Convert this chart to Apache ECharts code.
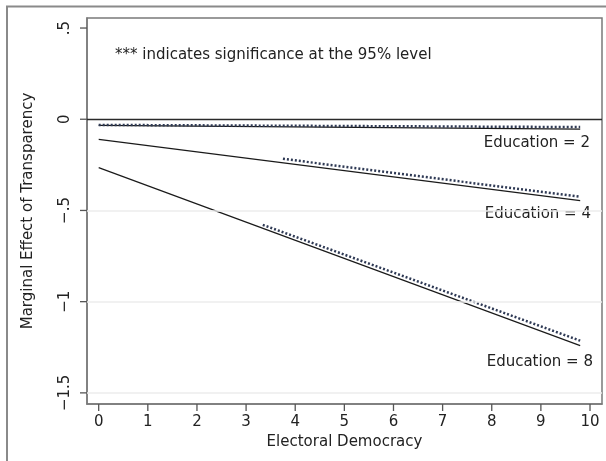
<!DOCTYPE html>
<html>
<head>
<meta charset="utf-8">
<script src="https://cdn.jsdelivr.net/npm/echarts@6/dist/echarts.min.js"></script>
<style>html,body{margin:0;padding:0;background:#fff}#c{width:606px;height:461px}</style>
</head>
<body>
<div id="c"></div>
<script>
// Data
const democracyX = [0, 9.8];
const effectEd2 = [-0.034, -0.054];
const effectEd4 = [-0.110, -0.446];
const effectEd8 = [-0.265, -1.241];
const sigX2 = [0, 9.8];
const sigEd2 = [-0.031, -0.043];
const sigX4 = [3.75, 9.8];
const sigEd4 = [-0.217, -0.425];
const sigX8 = [3.34, 9.8];
const sigEd8 = [-0.579, -1.214];
const xTicks = [0, 1, 2, 3, 4, 5, 6, 7, 8, 9, 10];
const yTicks = [-1.5, -1, -0.5, 0, 0.5];
const yTickLabels = ['\u22121.5', '\u22121', '\u2212.5', '0', '.5'];
const gridValues = [-1.5, -1, -0.5];
const lineLabels = ['Education = 2', 'Education = 4', 'Education = 8'];
const noteText = '*** indicates significance at the 95% level';

const FONT = 'DejaVu Sans';
const TXT = '#222';
const X_MIN = -0.238, X_MAX = 10.244, Y_MIN = -1.561, Y_MAX = 0.555;
const TICK_PX = 7;

function pairs(xs, ys) { return xs.map((x, i) => [x, ys[i]]); }

const chart = echarts.init(document.getElementById('c'), null, {renderer: 'canvas'});

const solid = { color: '#1a1a1a', width: 1.2 };
const stars = { color: '#2f3a55', width: 2.5, type: [2, 2], cap: 'butt' };
const tickStyle = { stroke: '#555', lineWidth: 1.3 };

function tickSeries(values, horizontal) {
  return {
    type: 'custom', silent: true, clip: false, z: 5,
    data: values.map(v => horizontal ? [v, Y_MIN] : [X_MIN, v]),
    renderItem: (params, api) => {
      const p = api.coord([api.value(0), api.value(1)]);
      const shape = horizontal
        ? { x1: p[0], y1: p[1], x2: p[0], y2: p[1] + TICK_PX }
        : { x1: p[0], y1: p[1], x2: p[0] - TICK_PX, y2: p[1] };
      return { type: 'line', shape: shape, style: tickStyle };
    }
  };
}

chart.setOption({
  animation: false,
  backgroundColor: '#fff',
  grid: { left: 87, right: 4, top: 18, bottom: 57, show: true, borderColor: '#7a7a7a', borderWidth: 1.5, backgroundColor: 'transparent' },
  xAxis: {
    type: 'value', min: X_MIN, max: X_MAX,
    name: 'Electoral Democracy', nameLocation: 'middle', nameGap: 31,
    nameTextStyle: { fontFamily: FONT, fontSize: 15, color: TXT },
    axisLine: { show: true, onZero: false, lineStyle: { color: '#7a7a7a', width: 1.5 } },
    axisTick: { show: false },
    axisLabel: { customValues: xTicks, fontFamily: FONT, fontSize: 15, color: TXT, margin: 11 },
    splitLine: { show: false }
  },
  yAxis: {
    type: 'value', min: Y_MIN, max: Y_MAX,
    name: 'Marginal Effect of Transparency', nameLocation: 'middle', nameGap: 51,
    nameTextStyle: { fontFamily: FONT, fontSize: 15, color: TXT },
    axisLine: { show: true, onZero: false, lineStyle: { color: '#7a7a7a', width: 1.5 } },
    axisTick: { show: false },
    axisLabel: {
      customValues: yTicks, rotate: 90, fontFamily: FONT, fontSize: 15, color: TXT, margin: 14,
      formatter: v => { const i = yTicks.findIndex(t => Math.abs(t - v) < 1e-9); return i >= 0 ? yTickLabels[i] : ''; }
    },
    splitLine: { show: false }
  },
  graphic: [
    { type: 'rect', silent: true, shape: { x: 7, y: 6.5, width: 640, height: 480 }, style: { fill: 'none', stroke: '#8a8a8a', lineWidth: 2 } },
    { type: 'text', left: 115, top: 48, style: { text: noteText, fontFamily: FONT, fontSize: 15, fill: TXT } },
    { type: 'text', right: 16, top: 136, style: { text: lineLabels[0], fontFamily: FONT, fontSize: 15, fill: TXT } },
    { type: 'text', right: 15, top: 207, style: { text: lineLabels[1], fontFamily: FONT, fontSize: 15, fill: TXT } },
    { type: 'text', right: 13, top: 355, style: { text: lineLabels[2], fontFamily: FONT, fontSize: 15, fill: TXT } }
  ],
  series: [
    {
      type: 'line', data: [], silent: true,
      markLine: {
        silent: true, symbol: 'none', label: { show: false },
        lineStyle: { color: '#ececec', width: 1.5, type: 'solid' },
        data: gridValues.map(v => ({ yAxis: v }))
      }
    },
    {
      type: 'line', data: [], silent: true,
      markLine: {
        silent: true, symbol: 'none', label: { show: false },
        lineStyle: { color: '#2a2a2a', width: 1.3, type: 'solid' },
        data: [{ yAxis: 0 }]
      }
    },
    tickSeries(xTicks, true),
    tickSeries(yTicks, false),
    { type: 'line', data: pairs(democracyX, effectEd2), showSymbol: false, lineStyle: solid },
    { type: 'line', data: pairs(democracyX, effectEd4), showSymbol: false, lineStyle: solid },
    { type: 'line', data: pairs(democracyX, effectEd8), showSymbol: false, lineStyle: solid },
    { type: 'line', data: pairs(sigX2, sigEd2), showSymbol: false, lineStyle: stars },
    { type: 'line', data: pairs(sigX4, sigEd4), showSymbol: false, lineStyle: stars },
    { type: 'line', data: pairs(sigX8, sigEd8), showSymbol: false, lineStyle: stars }
  ]
});
</script>
</body>
</html>
